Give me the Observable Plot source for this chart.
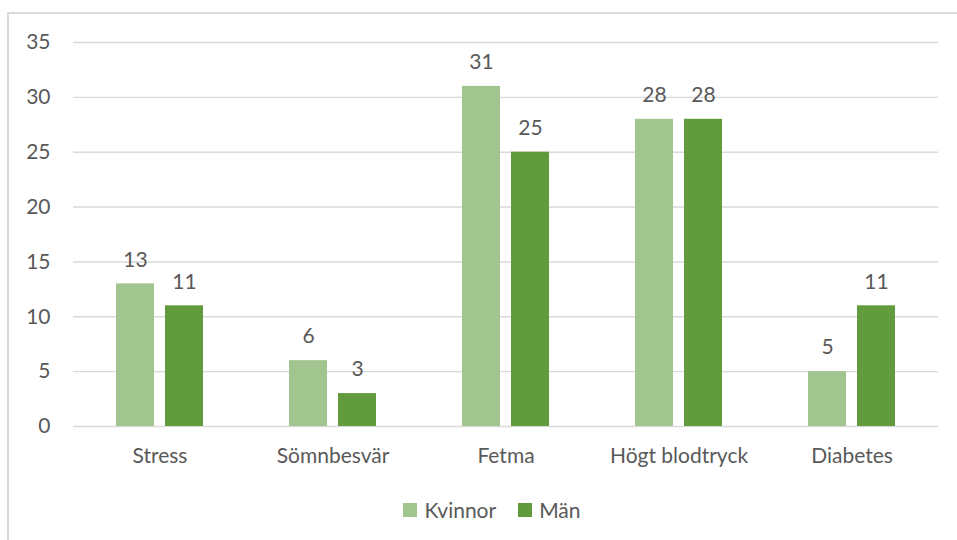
<!DOCTYPE html>
<html>
<head>
<meta charset="utf-8">
<script src="https://cdn.jsdelivr.net/npm/d3@7"></script>
<script src="https://cdn.jsdelivr.net/npm/@observablehq/plot@0.6"></script>
<style>
  html, body { margin: 0; padding: 0; background: #fff; overflow: hidden; width: 957px; height: 540px; }
  #frame { position: absolute; left: 7px; top: 12px; width: 1000px; height: 600px; border-top: 2px solid #d9d9d9; border-left: 2px solid #d9d9d9; box-sizing: border-box; }
  #chart { position: absolute; left: 0; top: 0; }
  #legend { position: absolute; left: 0; top: 493px; width: 984px; display: flex; justify-content: center; }
  .lg-swatches { font-family: Lato, sans-serif !important; font-size: 21px !important; color: #595959 !important; justify-content: center; margin: 0 !important; }
  .lg-swatch > svg { margin-right: 7px !important; }
  .lg-swatch { margin-right: 22px !important; }
  .lg-swatch:last-child { margin-right: 0 !important; }
</style>
</head>
<body>
<div id="frame"></div>
<div id="chart"></div>
<div id="legend"></div>
<script>
const categories = ["Stress", "Sömnbesvär", "Fetma", "Högt blodtryck", "Diabetes"];
const sexes = ["Kvinnor", "Män"];
const kvinnor = [13, 6, 31, 28, 5];
const man = [11, 3, 25, 28, 11];
const yTicks = [0, 5, 10, 15, 20, 25, 30, 35];
const colors = ["#a2c58f", "#619b3e"];

const rows = [];
categories.forEach((c, i) => {
  rows.push({cat: c, sex: sexes[0], value: kvinnor[i]});
  rows.push({cat: c, sex: sexes[1], value: man[i]});
});

const chart = Plot.plot({
  width: 957,
  height: 475,
  marginLeft: 72,
  marginRight: 18,
  marginTop: 42,
  marginBottom: 49,
  style: {fontFamily: "Lato, sans-serif", fontSize: "21px", color: "#595959", background: "transparent", overflow: "visible"},
  facet: {data: rows, x: "cat"},
  fx: {domain: categories, padding: 0, axis: "bottom", label: null, tickSize: 0, tickPadding: 22},
  x: {domain: sexes, paddingInner: 0.22, paddingOuter: 0.844, axis: null},
  y: {domain: [0, 35], ticks: yTicks, tickSize: 0, tickPadding: 23, label: null},
  color: {domain: sexes, range: colors},
  marks: [
    Plot.ruleY(yTicks, {stroke: "#d9d9d9", strokeWidth: 1.4}),
    Plot.barY(rows, {x: "sex", y: "value", fill: "sex"}),
    Plot.text(rows, {x: "sex", y: "value", text: d => String(d.value), dy: -24, fill: "#595959", fontSize: 21})
  ]
});
document.getElementById("chart").appendChild(chart);

const legend = Plot.legend({
  color: {domain: sexes, range: colors},
  swatchSize: 14,
  className: "lg"
});
document.getElementById("legend").appendChild(legend);
</script>
</body>
</html>
